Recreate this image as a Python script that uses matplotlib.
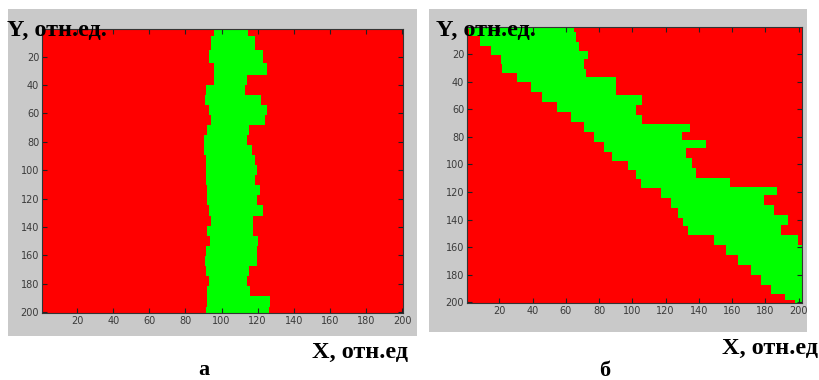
import matplotlib
matplotlib.use("Agg")
import matplotlib.pyplot as plt
from matplotlib.patches import Rectangle

# ---------------- data ----------------
# Panel "а": vertical green band, edges per row (Y, отн.ед.)
a_rows = [0.5, 10.6, 20, 29.4, 36.5, 43.6, 50.7, 57.7, 64.8, 71.9, 79, 86, 93, 100,
          107, 114, 121, 128.5, 135.6, 142.6, 149.7, 156.8, 163.9, 171, 178, 185, 192, 200.5]
a_left = [95.8, 94, 93, 95.8, 95.8, 91.3, 90.7, 93, 94, 92, 90, 90.4, 91.3, 91.3,
          91.3, 92, 92, 93, 94, 92, 93.6, 91.3, 90.7, 91.3, 93, 92, 92, 91.3]
a_right = [114.9, 118.5, 123, 125, 114, 113, 122, 125, 124, 115, 114, 116.7, 118.5, 119.5,
           118.5, 121, 119.5, 123, 117.6, 117.6, 120.4, 119.5, 119.5, 115, 114, 116, 127, 126]

# Panel "б": diagonal green band
b_rows_low = [0.5, 3.2, 10.4, 17.6, 23.6, 30.8, 36.8, 44.0, 51.3, 58.5, 65.7, 72.9, 80.1, 87.3,
              94.5, 100.5, 107.7, 113.8, 121, 128.2, 135.4, 142.6, 147.4, 154.6, 161.8,
              169, 176.3, 183.5, 190.7, 196.7, 200.5]
b_low = [0.5, 1.6, 8.6, 14.7, 20.7, 21.7, 30.7, 38.8, 45.8, 54.8, 62.9, 70.9, 77, 83,
         88, 97.1, 102, 105, 117.1, 123.2, 127.2, 130.2, 133.2, 149.3, 156.4,
         163.4, 171.5, 177.5, 183.5, 191.6, 197.6]
b_rows_up = [0.5, 8, 15.2, 20, 27.2, 34.4, 39.2, 46.4, 53.6, 60.9, 68.1, 72.9, 80.1, 84.9,
             92.1, 99.3, 106.5, 113.8, 119, 125.8, 133, 140.2, 147.4, 154.6, 161.8, 200.5]
b_up = [64.9, 66, 68, 73, 71, 72, 90, 90.1, 106, 102, 106, 134.5, 130, 144.4,
        132, 136, 138, 158.4, 187, 179.4, 185.4, 193.5, 189.5, 199.5, 202, 202]

x_ticks = [20, 40, 60, 80, 100, 120, 140, 160, 180, 200]
y_ticks = [20, 40, 60, 80, 100, 120, 140, 160, 180, 200]

RED = "#ff0000"
GREEN = "#00ff00"
GRAY = "#c9c9c9"

W, H = 819, 380
fig = plt.figure(figsize=(W / 100, H / 100), dpi=100)
fig.patch.set_facecolor("white")


def px_rect(x0, y0, x1, y1):
    return [x0 / W, 1 - y1 / H, (x1 - x0) / W, (y1 - y0) / H]


# gray panel backgrounds
for (x0, y0, x1, y1) in [(8, 9, 417, 336), (429, 9, 807, 332)]:
    fig.patches.append(Rectangle((x0 / W, 1 - y1 / H), (x1 - x0) / W, (y1 - y0) / H,
                                 transform=fig.transFigure, facecolor=GRAY,
                                 edgecolor="none", zorder=-5))


def style_axes(ax, xmax):
    ax.set_facecolor(RED)
    ax.set_xlim(0.5, xmax)
    ax.set_ylim(200.5, 0.5)
    ax.set_xticks(x_ticks)
    ax.set_yticks(y_ticks)
    ax.tick_params(direction="in", length=3.5, width=0.8, colors="#222222",
                   labelcolor="#3a3a3a", labelsize=7, top=True, right=True, pad=2)
    for s in ax.spines.values():
        s.set_color("#333333")
        s.set_linewidth(0.8)


ax1 = fig.add_axes(px_rect(42, 29, 403, 313))
style_axes(ax1, 200.5)
ax1.fill_betweenx(a_rows, a_left, a_right, step="mid", color=GREEN, linewidth=0)

ax2 = fig.add_axes(px_rect(467, 27, 802, 303))
style_axes(ax2, 202.0)
ax2.fill_betweenx(b_rows_low, b_low, 202.0, step="mid", color=GREEN, linewidth=0)
ax2.fill_betweenx(b_rows_up, b_up, 202.0, step="mid", color=RED, linewidth=0)

serif = dict(family=["Liberation Serif", "DejaVu Serif"], fontweight="bold", color="black")


def ftext(x, y, s, ha, size=17.5):
    fig.text(x / W, 1 - y / H, s, ha=ha, va="center", fontsize=size, zorder=10, **serif)


ftext(7, 30, "Y, отн.ед.", "left")
ftext(436, 30, "Y, отн.ед.", "left")
ftext(408, 352, "X, отн.ед", "right")
ftext(818, 348, "X, отн.ед", "right")
ftext(204, 370, "а", "center", size=16)
ftext(605, 371, "б", "center", size=16)

fig.savefig("out.png", dpi=100, facecolor="white")
